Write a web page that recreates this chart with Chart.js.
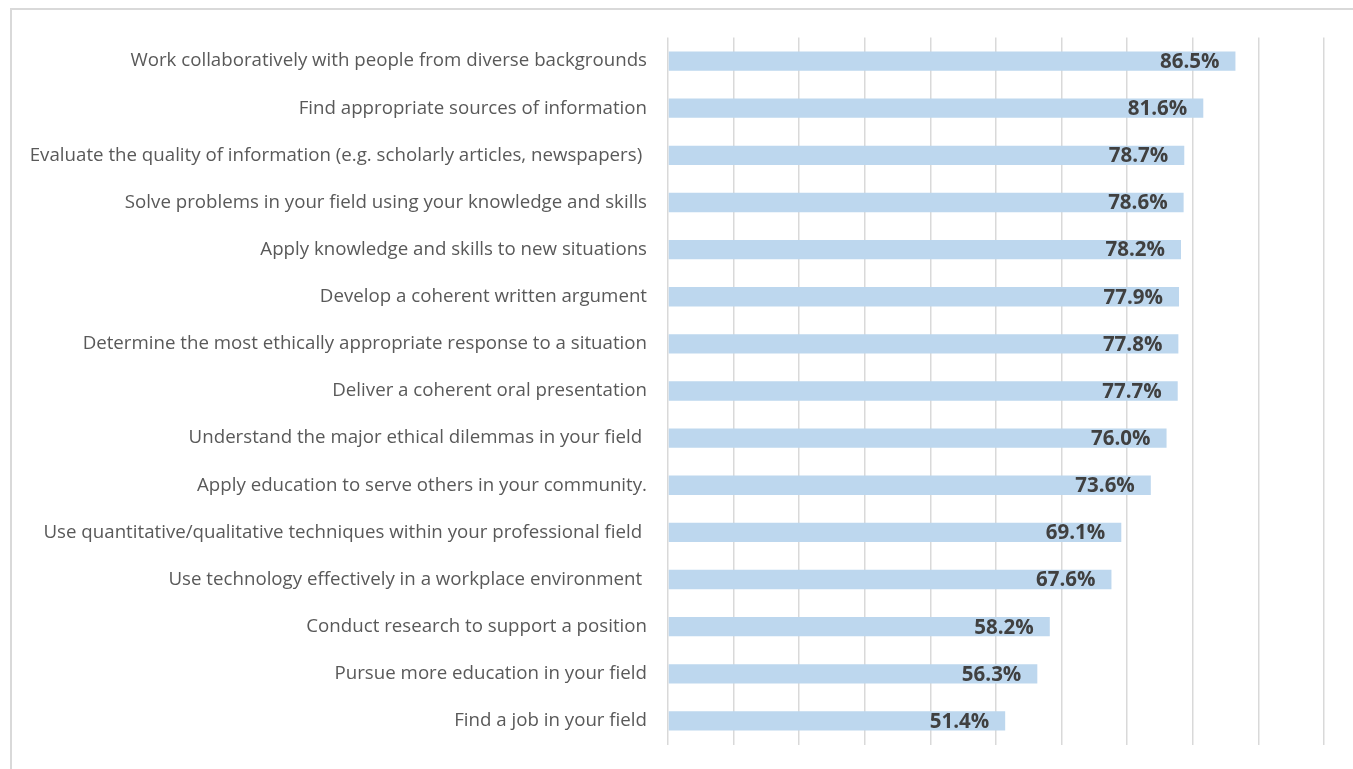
<!DOCTYPE html>
<html>
<head>
<meta charset="utf-8">
<script src="https://cdn.jsdelivr.net/npm/chart.js@4/dist/chart.umd.min.js"></script>
<style>
    html, body { margin: 0; padding: 0; background: #fff; }
    #wrap { position: relative; width: 1353px; height: 769px; overflow: hidden; }
    #frame {
        position: absolute; left: 10px; top: 8px; width: 1400px; height: 800px;
        border-top: 2px solid #d9d9d9; border-left: 2px solid #d9d9d9;
        box-sizing: border-box; pointer-events: none;
    }
    canvas { position: absolute; left: 0; top: 0; }
</style>
</head>
<body>
<div id="wrap">
    <div id="frame"></div>
    <canvas id="chart" width="1353" height="769"></canvas>
</div>
<script>
"use strict";

var skills = [
    "Work collaboratively with people from diverse backgrounds",
    "Find appropriate sources of information",
    "Evaluate the quality of information (e.g. scholarly articles, newspapers) ",
    "Solve problems in your field using your knowledge and skills",
    "Apply knowledge and skills to new situations",
    "Develop a coherent written argument",
    "Determine the most ethically appropriate response to a situation",
    "Deliver a coherent oral presentation",
    "Understand the major ethical dilemmas in your field ",
    "Apply education to serve others in your community.",
    "Use quantitative/qualitative techniques within your professional field ",
    "Use technology effectively in a workplace environment ",
    "Conduct research to support a position",
    "Pursue more education in your field",
    "Find a job in your field"
];
var percentValues = [86.5, 81.6, 78.7, 78.6, 78.2, 77.9, 77.8, 77.7, 76.0, 73.6, 69.1, 67.6, 58.2, 56.3, 51.4];
var axisMin = 0;
var axisMax = 100;

var fontFamily = "'Open Sans', Lato, sans-serif";

// draws the value at the inner end of each bar
var valueLabels = {
    id: "valueLabels",
    afterDatasetsDraw: function(chart) {
        var ctx = chart.ctx;
        var meta = chart.getDatasetMeta(0);
        ctx.save();
        ctx.font = "bold 20.5px " + fontFamily;
        ctx.fillStyle = "#404040";
        ctx.textAlign = "right";
        ctx.textBaseline = "middle";
        meta.data.forEach(function(bar, i) {
            ctx.fillText(percentValues[i].toFixed(1) + "%", bar.x - 16, bar.y + 1);
        });
        ctx.restore();
    }
};

new Chart(document.getElementById("chart"), {
    type: "bar",
    data: {
        labels: skills,
        datasets: [
            {
                data: percentValues,
                backgroundColor: "#bdd7ee",
                borderWidth: 0,
                categoryPercentage: 1,
                barPercentage: 0.41
            }
        ]
    },
    plugins: [valueLabels],
    options: {
        indexAxis: "y",
        responsive: false,
        animation: false,
        layout: {
            padding: { top: 37.5, right: 29, bottom: 24.5, left: 0 }
        },
        plugins: {
            legend: { display: false },
            tooltip: { enabled: false }
        },
        scales: {
            x: {
                min: axisMin,
                max: axisMax,
                afterFit: function(scale) {
                    scale.height = 0;
                },
                ticks: { display: false, stepSize: 10 },
                grid: { color: "#d9d9d9", lineWidth: 1.5, drawTicks: false },
                border: { display: false }
            },
            y: {
                afterFit: function(scale) {
                    scale.width = 668;
                    // tick padding would otherwise be added above and below the axis
                    scale.paddingTop = 0;
                    scale.paddingBottom = 0;
                },
                ticks: {
                    color: "#595959",
                    padding: 21,
                    autoSkip: false,
                    font: { family: fontFamily, size: 18.7 }
                },
                grid: { display: false, drawTicks: false },
                border: { display: false }
            }
        }
    }
});
</script>
</body>
</html>
